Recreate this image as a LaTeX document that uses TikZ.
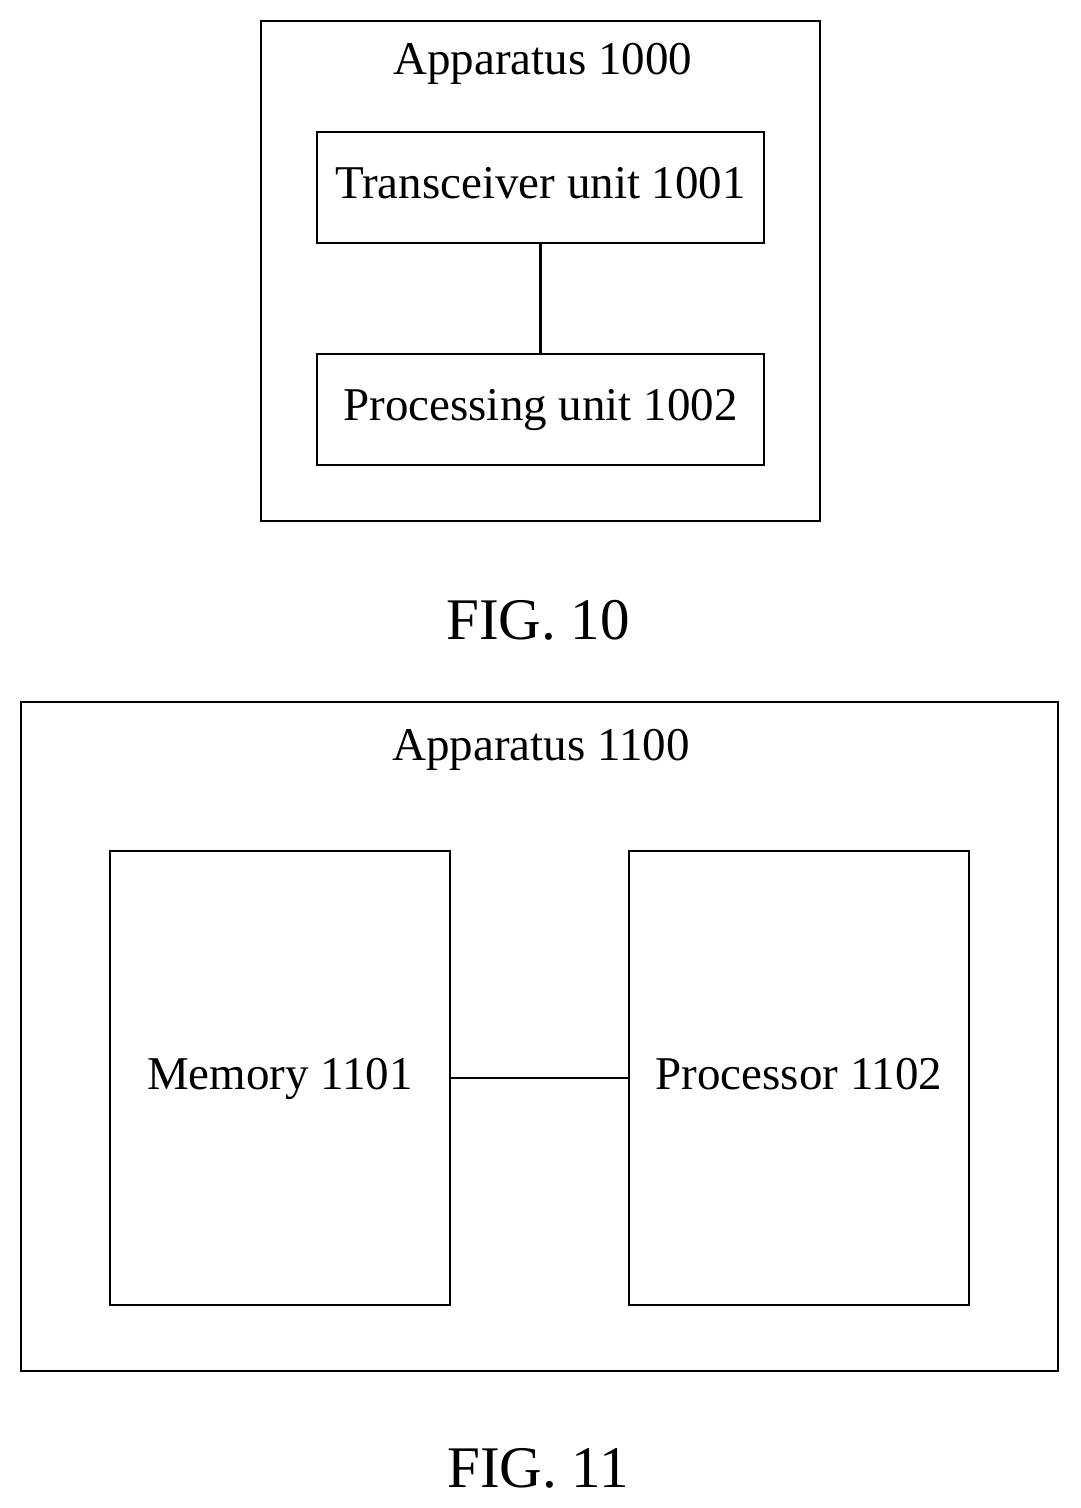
\documentclass[tikz,border=0pt]{standalone}
\usepackage{fontspec}
\setmainfont{Liberation Serif}
\usetikzlibrary{positioning}
\begin{document}
\begin{tikzpicture}[x=1pt, y=-1pt, line width=2.5pt,
    box/.style={draw, inner sep=0pt, text height=32pt, text depth=10pt, font=\fontsize{47}{52}\selectfont},
    title/.style={font=\fontsize{47}{52}\selectfont},
    fig/.style={font=\fontsize{59}{64}\selectfont}]
  \useasboundingbox (0,0) rectangle (1080,1508);
  % FIG. 10
  \node[box, minimum width=559pt, minimum height=500pt] (app1) at (540.5,271) {};
  \node[title] (app1lbl) at (543,64) {Apparatus 1000};
  \node[box, minimum width=447pt, minimum height=111pt] (trx) at (540.5,187.5) {Transceiver unit 1001};
  \node[box, minimum width=447pt, minimum height=111pt] (proc) at (540.5,409.5) {Processing unit 1002};
  \draw (trx) -- (proc);
  \node[fig] (fig10) at (538,620) {FIG. 10};
  % FIG. 11
  \node[box, minimum width=1037pt, minimum height=669pt] (app2) at (539.5,1036.5) {};
  \node[title] (app2lbl) at (541,750) {Apparatus 1100};
  \node[box, minimum width=340pt, minimum height=454pt] (mem) at (280,1078) {Memory 1101};
  \node[box, minimum width=340pt, minimum height=454pt] (cpu) at (799,1078) {Processor 1102};
  \draw (mem) -- (cpu);
  \node[fig] (fig11) at (538,1468) {FIG. 11};
\end{tikzpicture}
\end{document}
